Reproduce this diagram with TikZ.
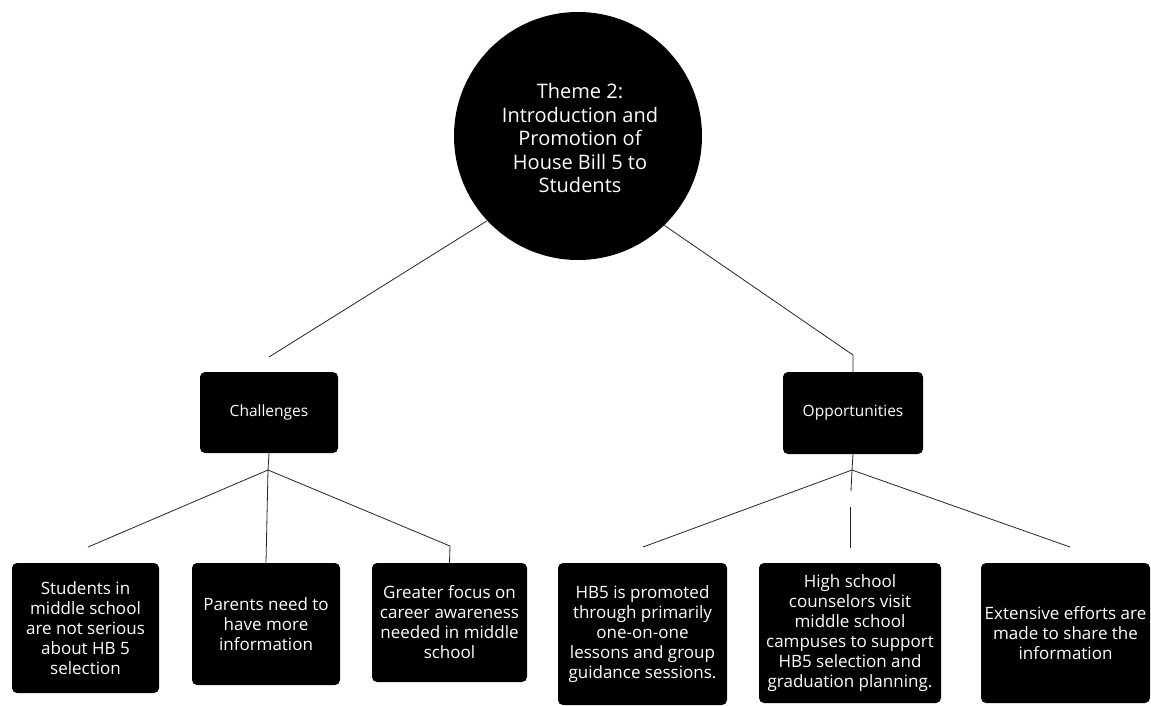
\documentclass[tikz,border=0pt]{standalone}
\usepackage{fontspec}
\setmainfont{Open Sans}
\begin{document}
\begin{tikzpicture}[x=1pt,y=-1pt,
  box/.style={draw=none,fill=black,rounded corners=5pt,text=white,align=center,inner sep=0pt,
    font=\fontsize{17}{20}\selectfont},
  midbox/.style={box,font=\fontsize{15.5}{20}\selectfont},
  conn/.style={draw=black!85,line width=0.8pt}]
\useasboundingbox[fill=white] (0,0) rectangle (1151,705);
% central circle
\node[circle,fill=black,minimum size=248pt,inner sep=0pt] (circ) at (578,136) {};
\node[text=white,align=center,font=\fontsize{20}{23.5}\selectfont] (title) at (580,138)
  {Theme 2:\\Introduction and\\Promotion of\\House Bill 5 to\\Students};
% second level
\node[midbox,minimum width=138pt,minimum height=81pt] (ch) at (269,412.5) {Challenges};
\node[midbox,minimum width=140pt,minimum height=82pt] (op) at (853,413) {Opportunities};
% leaves
\node[box,minimum width=147pt,minimum height=130pt] (b1) at (85.5,628)
  {Students in\\middle school\\are not serious\\about HB 5\\selection};
\node[box,minimum width=148pt,minimum height=122pt] (b2) at (266,624)
  {Parents need to\\have more\\information};
\node[box,minimum width=155pt,minimum height=119pt] (b3) at (449.5,622.5)
  {Greater focus on\\career awareness\\needed in middle\\school};
\node[box,minimum width=169pt,minimum height=142pt] (b4) at (642.5,634)
  {HB5 is promoted\\through primarily\\one-on-one\\lessons and group\\guidance sessions.};
\node[box,minimum width=182pt,minimum height=140pt] (b5) at (850,633)
  {High school\\counselors visit\\middle school\\campuses to support\\HB5 selection and\\graduation planning.};
\node[box,minimum width=169pt,minimum height=140pt] (b6) at (1065.5,633)
  {Extensive efforts are\\made to share the\\information};
% coordinates
\coordinate (cl) at (269,357);
\coordinate (cr) at (853,355);
\coordinate (chB) at (268,470);
\coordinate (c1) at (88,547);
\coordinate (c3) at (450,546);
\coordinate (opB) at (852,470);
\coordinate (o1) at (643,547);
\coordinate (o3) at (1070,547);
\coordinate (m1) at (851,491);
\coordinate (m2) at (850,507);
\coordinate (m3) at (850,548);
% connectors
\draw[conn] (circ.223) -- (cl);
\draw[conn] (circ.314) -- (cr) -- (op.north);
\draw[conn] (ch.south) -- (chB);
\draw[conn] (chB) -- (c1);
\draw[conn] (chB) -- (b2.north);
\draw[conn] (chB) -- (c3) -- (b3.north);
\draw[conn] (op.south) -- (opB);
\draw[conn] (opB) -- (o1);
\draw[conn] (opB) -- (o3);
\draw[conn] (opB) -- (m1);
\draw[conn] (m2) -- (m3);
\end{tikzpicture}
\end{document}
